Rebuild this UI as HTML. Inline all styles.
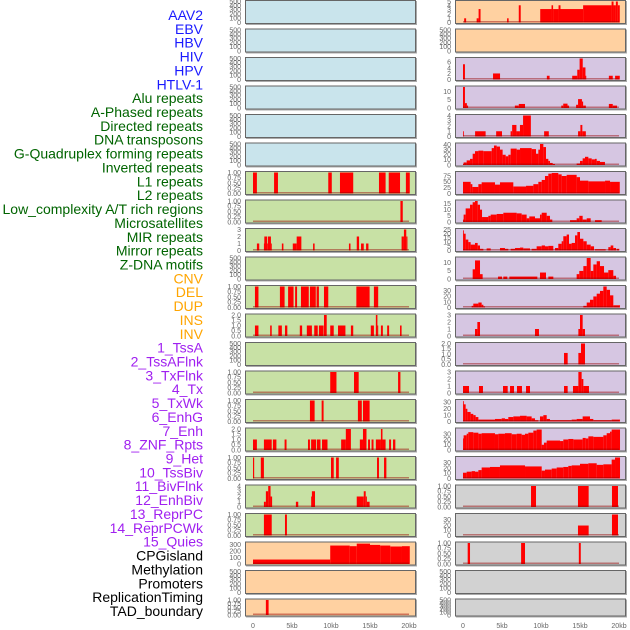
<!DOCTYPE html>
<html><head><meta charset="utf-8"><style>
body{margin:0;background:#fff;}
svg{display:block;font-family:"Liberation Sans",sans-serif;}
</style></head><body>
<svg id="chart" width="630" height="630" viewBox="0 0 630 630"></svg>
<script>
const labels = ["AAV2","EBV","HBV","HIV","HPV","HTLV-1","Alu repeats","A-Phased repeats","Directed repeats","DNA transposons","G-Quadruplex forming repeats","Inverted repeats","L1 repeats","L2 repeats","Low_complexity A/T rich regions","Microsatellites","MIR repeats","Mirror repeats","Z-DNA motifs","CNV","DEL","DUP","INS","INV","1_TssA","2_TssAFlnk","3_TxFlnk","4_Tx","5_TxWk","6_EnhG","7_Enh","8_ZNF_Rpts","9_Het","10_TssBiv","11_BivFlnk","12_EnhBiv","13_ReprPC","14_ReprPCWk","15_Quies","CPGisland","Methylation","Promoters","ReplicationTiming","TAD_boundary"];
const labelGroups = ["v","v","v","v","v","v","r","r","r","r","r","r","r","r","r","r","r","r","r","s","s","s","s","s","c","c","c","c","c","c","c","c","c","c","c","c","c","c","c","o","o","o","o","o"];
const xTicks = [0,5,10,15,20];
const xTickLabels = ["0","5kb","10kb","15kb","20kb"];
const T500=[0,100,200,300,400,500], T1=[0,0.25,0.5,0.75,1], T2=[0,0.5,1,1.5,2];
// left column panels: [max, ticks, steps[[kb,value]...]]
const leftMax = [500,500,500,500,500,500,1,1,3,500,1,2,500,1,1,2,1,4,1,330,500,1];
const leftTicks = [T500,T500,T500,T500,T500,T500,T1,T1,[0,1,2,3],T500,T1,T2,T500,T1,T1,T2,T1,[0,1,2,3,4],T1,[0,100,200,300],T500,T1];
const leftSteps = [[],[],[],[],[],[],
[[0,1],[0.5,0],[2.7,1],[3.2,0],[9.65,1],[10.1,0],[11.15,1],[12.85,0],[16.15,1],[17.0,0],[17.4,1],[18.85,0],[19.6,1],[20.1,0]],
[[18.9,1],[19.2,0]],
[[0.5,1],[0.8,0],[1.4,1],[1.45,2],[1.8,1],[1.9,2],[2.3,1],[2.4,0],[3.7,1],[3.9,0],[5.1,1],[5.6,2],[6.2,0],[7.7,1],[7.9,0],[12.3,1],[12.5,0],[13.3,2],[13.6,0],[13.85,1],[14.2,0],[14.5,1],[14.8,0],[19.05,2],[19.35,3],[19.65,2],[19.8,0]],
[],
[[0.25,1],[0.7,0],[3.45,1],[4.05,0],[4.5,1],[5.2,0],[5.4,1],[5.65,0],[6.15,1],[7.15,0],[7.3,1],[8.05,0],[8.15,1],[8.45,0],[9.1,1],[9.65,0],[13.25,1],[14.95,0],[15.5,1],[16.05,0]],
[[0.25,1],[0.7,0],[2.2,1],[2.4,0],[3.25,1],[3.7,0],[4.1,1],[4.4,0],[6.0,1],[6.3,0],[6.9,1],[7.55,0],[7.85,1],[8.3,0],[8.45,1],[9.05,0],[9.1,2],[9.45,0],[9.9,1],[10.35,0],[10.9,1],[11.85,0],[12.55,1],[12.85,0],[15.1,1],[15.5,0],[15.75,2],[15.95,1],[16.05,0],[16.4,1],[16.65,0],[17.2,1],[17.45,0],[18.85,1],[19.05,0]],
[],
[[9.9,1],[10.7,0],[12.95,1],[13.55,0],[18.6,1],[18.9,0]],
[[7.3,1],[7.9,0],[8.8,1],[9.05,0],[13.45,1],[13.95,0],[14.1,1],[14.95,0]],
[[0,1],[0.5,0],[1.4,1],[2.4,0],[2.55,1],[3.0,0],[4.05,1],[4.3,0],[7.05,1],[7.3,0],[7.45,1],[8.1,0],[8.2,1],[8.65,0],[8.85,1],[9.55,0],[11.3,1],[11.9,2],[12.55,0],[13.7,1],[14.1,2],[14.55,0],[14.75,1],[15.0,0],[15.2,1],[15.45,0],[15.75,1],[16.4,2],[16.6,1],[17.0,0],[17.45,1],[17.7,0],[17.95,1],[18.25,0]],
[[0,1],[0.15,0],[1.0,1],[1.4,0],[10.0,1],[10.35,0],[10.65,1],[11.0,0],[15.9,1],[16.15,0],[16.8,1],[17.1,0]],
[[1.4,1],[1.65,3],[1.95,4],[2.25,2],[2.45,0],[5.5,1],[5.8,0],[7.45,2],[7.55,3],[7.95,0],[13.3,2],[14.2,3],[14.45,2],[14.6,1],[14.95,0]],
[[1.4,1],[2.4,0],[4.1,1],[4.35,0]],
[[0,70],[9.9,290],[12.4,280],[13.3,320],[15.0,300],[16.3,290],[17.6,275],[19.1,280],[20.1,0]],
[],
[[1.65,1],[2.0,0]]];
const rightMax = [5,500,7.3,13,4,41,90,17,25,13,38,3,2,3,33,40,40,1,40,1,500,500];
const rightTicks = [[0,1,2,3,4,5],T500,[0,2,4,6],[0,5,10],[0,1,2,3,4],[0,10,20,30,40],[0,25,50,75],[0,5,10,15],[0,5,10,15,20,25],[0,5,10],[0,10,20,30],[0,1,2,3],T2,[0,1,2,3],[0,10,20,30],[0,10,20,30],[0,10,20,30],T1,[0,10,20,30],T1,T500,T500];
const rightSteps = [
[[0.15,1],[0.4,0],[1.75,1],[2.0,3.2],[2.25,0],[5.65,1],[5.85,0],[7.15,4.1],[7.4,0],[9.9,3.2],[11.35,4.1],[11.55,3.2],[12.25,4.1],[12.5,3.2],[15.4,4.1],[19.05,5],[19.3,4.1],[19.6,5],[19.85,4.1],[20.1,0]],
[],
[[0,5.3],[0.25,0],[3.85,2.1],[4.75,0],[10.75,1.3],[11.1,0],[14.0,1.3],[14.65,3.4],[14.95,7.3],[15.35,4.2],[15.7,1.3],[15.8,0],[18.7,1.3],[19.2,0],[19.5,1.3],[20.1,0]],
[[0,13],[0.25,3],[0.5,1.5],[0.65,0],[6.65,1.5],[7.15,2.5],[7.95,0],[12.6,1.5],[12.85,2.7],[13.4,1.5],[13.6,0],[14.5,2],[14.75,5.5],[15.25,4],[15.4,1.5],[15.75,0],[18.7,2.5],[19.2,1.5],[19.75,0]],
[[0,1],[0.1,0],[1.55,1],[2.9,0],[4.25,1],[5.0,0],[6.1,1],[6.3,2.2],[6.85,1],[7.3,2.2],[7.7,4],[8.7,0],[10.4,1],[11.0,0],[14.75,1],[15.05,2.2],[15.3,1],[15.75,0]],
[[0,2],[0.08,5],[0.47,9],[0.9,12],[1.24,22],[1.54,27],[1.97,28],[2.6,27],[3.68,33],[3.97,38],[4.32,36],[4.74,30],[5.08,20],[5.47,17],[5.81,20],[6.11,32],[6.88,30],[7.31,33],[8.8,31],[9.36,22],[9.66,30],[9.87,41],[10.3,35],[10.64,12],[10.94,8],[11.15,4],[11.5,2],[11.79,0],[14.57,3],[15.0,8],[15.34,13],[15.64,16],[16.07,13],[16.5,11],[16.92,12],[17.14,8],[17.56,6],[18.2,0]],
[[0,50],[0.98,40],[1.2,28],[1.97,40],[2.39,48],[4.1,38],[4.74,48],[6.45,30],[8.08,33],[9.02,40],[9.66,50],[10.09,58],[10.51,75],[10.94,85],[11.37,88],[12.22,82],[12.65,75],[13.29,80],[14.57,70],[15.0,55],[16.07,52],[18.21,55],[18.85,50],[20.1,0]],
[[0,2],[0.08,6],[0.34,11],[0.9,14],[1.24,16],[1.54,17],[1.88,14],[2.18,10],[2.44,4],[3.25,5],[3.55,6],[4.32,6.5],[5.17,7.5],[6.88,7],[7.52,6],[8.16,3],[8.5,4.5],[9.23,3],[9.87,6],[10.09,7.5],[10.73,5],[11.15,2],[11.45,0],[13.72,1.5],[14.57,3],[14.91,5],[15.34,2],[15.86,3],[16.37,0],[16.92,1.5],[17.78,0]],
[[0,24],[0.08,20],[0.34,13],[0.68,10],[0.98,7],[1.54,9],[1.88,6],[2.18,2],[2.61,0],[3.03,2.5],[3.55,0],[4.74,3],[5.38,2],[5.81,0],[6.11,2],[6.67,3],[7.31,3.5],[7.73,2.5],[8.59,0],[8.8,2],[9.44,5],[10.09,6],[10.51,5],[10.94,5.5],[11.58,0],[11.79,3],[12.22,8],[12.65,11],[12.86,17],[13.29,19],[13.59,8],[13.93,9],[14.36,18],[14.66,22],[15.0,14],[15.43,11],[15.86,7],[16.37,5],[16.8,0],[16.92,1.5],[18.29,0],[18.63,4],[18.93,6],[19.27,3],[19.62,0],[19.7,2],[20.04,0]],
[[1.24,6],[1.54,11.5],[2.18,3],[2.52,0],[4.49,1.5],[5.0,0],[5.17,1.5],[5.68,0],[5.94,1.5],[9.53,0],[9.87,4],[10.64,0],[10.94,1.5],[11.58,0],[14.57,3],[14.91,5],[15.43,8],[15.86,13],[16.37,5],[16.71,9],[17.14,11],[17.56,8],[18.08,4],[18.63,5.5],[19.27,2],[19.62,0]],
[[1.11,3],[1.32,7],[1.97,9],[2.39,5],[2.61,2],[2.82,0],[15.43,3],[15.86,9],[16.28,14],[16.71,20],[17.14,25],[17.56,30],[17.99,38],[18.42,32],[18.85,22],[19.27,4],[20.13,0]],
[[1.54,1],[1.84,2],[2.18,0],[9.23,1],[9.74,0],[14.79,1],[15.0,3],[15.34,1],[15.64,0]],
[[12.95,1.1],[13.42,0],[14.79,1.1],[15.13,2],[15.64,0]],
[[0,1],[0.77,0],[2.05,1],[2.56,0],[5.13,1],[5.73,0],[6.03,1],[6.54,0],[6.92,1],[7.56,0],[8.08,1],[8.59,0],[12.95,1],[13.42,0],[14.1,1],[14.79,3],[15.21,2],[15.43,1],[16.15,0]],
[[0,32],[0.08,27],[0.34,20],[0.56,15],[0.98,12],[1.32,10],[1.62,7],[1.97,3],[4.1,4],[4.96,5],[5.38,4],[5.81,7],[6.45,8],[7.31,9],[8.16,8],[8.8,5],[9.23,2],[9.66,0],[9.87,8],[10.3,10],[10.73,4],[11.15,2],[13.93,3],[14.57,4],[15.34,8],[16.28,4],[16.71,2],[19.06,3],[20.13,0]],
[[0,22],[0.08,28],[0.47,31],[0.68,34],[1.32,33],[1.97,31],[2.39,32],[4.1,30],[4.53,31],[5.38,32],[6.24,30],[6.88,31],[7.52,29],[7.95,31],[8.38,33],[9.02,37],[9.44,39],[10.09,10],[10.38,14],[10.73,18],[12.44,17],[12.86,20],[13.5,21],[14.15,20],[15.34,23],[15.73,22],[16.07,26],[16.71,25],[17.99,28],[18.42,32],[18.85,35],[19.06,39],[20.13,0]],
[[0,11],[0.47,13],[1.11,14],[1.54,13],[1.97,16],[2.39,21],[3.46,22],[4.74,25],[7.95,23],[10.09,15],[10.51,17],[11.37,19],[12.01,21],[12.86,22],[13.5,24],[13.93,25],[15.0,28],[16.07,29],[17.14,26],[17.99,27],[19.06,36],[19.49,40],[20.13,0]],
[[8.72,1],[9.36,0],[14.74,1],[16.11,0],[19.1,1],[19.87,0]],
[[14.74,19],[16.11,0],[19.1,40],[19.87,0]],
[[0.6,1],[0.9,0],[7.45,1],[7.95,0],[14.85,1],[15.1,0]],
[],[]];

const NS="http://www.w3.org/2000/svg";
const svg=document.getElementById('chart');
function mk(tag,attrs,parent){const e=document.createElementNS(NS,tag);for(const k in attrs)e.setAttribute(k,attrs[k]);(parent||svg).appendChild(e);return e;}
const groupColor={v:"#1a1aff",r:"#006400",s:"#ffa500",c:"#a020f0",o:"#000000"};
labels.forEach((t,i)=>{
  const e=mk('text',{x:203,y:15+i*13.86+5,'text-anchor':'end','font-size':'14',fill:groupColor[labelGroups[i]]});
  e.textContent=t;
  
  
});
const leftCols=["#c9e4ec","#c9e4ec","#c9e4ec","#c9e4ec","#c9e4ec","#c9e4ec"];
function fillFor(col,r){
  if(col===0){return r<6?"#c9e4ec":(r<19?"#c8e1a5":"#ffd1a1");}
  return r<2?"#ffd1a1":(r<17?"#d6c6e2":"#d2d2d2");
}
function drawCol(col,maxes,ticks,steps){
  const px0=col===0?245:455, pw=171, x0=px0+8, kbw=7.8;
  const xs=kb=>x0+kb*kbw;
  for(let r=0;r<22;r++){
    const top=r*28.5, h=r===21?18:24;
    const g=mk('g',{});
    
    
    mk('rect',{x:px0+1,y:top+1,width:pw,height:h,fill:'#aaaaaa'},g);
    mk('rect',{x:px0+0.5,y:top+0.5,width:pw-1,height:h-1,fill:fillFor(col,r),stroke:'#666',"stroke-width":1},g);
    const y0=top+h-1.5, y1=top+1.5;
    const ys=v=>y0-(v/maxes[r])*(y0-y1);
    ticks[r].forEach(tv=>{
      const dec=(ticks[r]===T1)?2:((ticks[r]===T2)?1:0);
      const t=mk('text',{x:px0-4,y:ys(tv)+2.3,'text-anchor':'end','font-size':'7',fill:'#666'},g);
      t.textContent=tv.toFixed(dec);
      
      
    });
    const st=steps[r];
    if(st.length){
      for(let i=0;i<st.length-1;i++){
        const v=st[i][1]; if(v<=0) continue;
        const b=mk('rect',{x:xs(st[i][0]),y:ys(v),width:Math.max(0.8,xs(st[i+1][0])-xs(st[i][0])),height:y0-ys(v),fill:'#ff0000'},g);
        
        
      }
      const bl=mk('rect',{x:xs(0),y:y0-1.5,width:xs(20)-xs(0),height:1.5,fill:'rgba(150,0,0,0.45)'},g);
      
      
    }
  }
  xTicks.forEach((k,i)=>{
    const t=mk('text',{x:xs(k),y:628,'text-anchor':'middle','font-size':'7',fill:'#666'});
    t.textContent=xTickLabels[i];
    
    
  });
}
drawCol(0,leftMax,leftTicks,leftSteps);
drawCol(1,rightMax,rightTicks,rightSteps);
</script>
</body></html>
